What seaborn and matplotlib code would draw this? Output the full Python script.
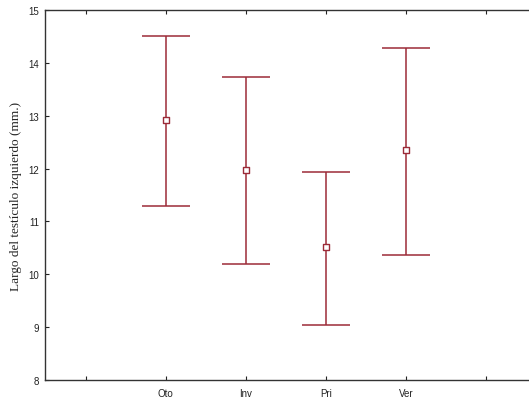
import matplotlib
matplotlib.use("Agg")
import matplotlib.pyplot as plt
import seaborn as sns
import pandas as pd

categories = ["Oto", "Inv", "Pri", "Ver"]
means = [12.91, 11.97, 10.52, 12.36]
lower = [11.29, 10.19, 9.05, 10.37]
upper = [14.50, 13.73, 11.93, 14.29]
y_ticks = [8, 9, 10, 11, 12, 13, 14, 15]

sns.set_theme(style="white")
plt.rcParams['font.family'] = ['Liberation Sans', 'DejaVu Sans']

color = "#9c2b38"
fig = plt.figure(figsize=(5.29, 4.02), dpi=100)
ax = fig.add_axes([45/529, 1 - 381/402, 484/529, 370/402])

pos = [1, 2, 3, 4]
df = pd.DataFrame({"x": pos, "mean": means, "lo": lower, "hi": upper, "cat": categories})
yerr = [[m - l for m, l in zip(means, lower)], [h - m for h, m in zip(upper, means)]]
ax.errorbar(df["x"], df["mean"], yerr=yerr, fmt="none", ecolor=color,
            elinewidth=1.1, capsize=17, capthick=1.1, zorder=2)
sns.scatterplot(data=df, x="x", y="mean", ax=ax, marker="s", s=18,
                facecolor="white", edgecolor=color, linewidth=1.0, zorder=3)

ax.set_xlim(-0.51, 5.54)
ax.set_ylim(8, 15)
ax.set_xticks([0, 1, 2, 3, 4, 5])
ax.set_xticklabels([""] + categories + [""], fontsize=7)
ax.set_yticks(y_ticks)
ax.set_yticklabels([str(v) for v in y_ticks], fontsize=7)
ax.set_xlabel("")
ax.set_ylabel("Largo del testículo izquierdo (mm.)", fontsize=9.5,
              family=["Liberation Serif", "DejaVu Serif"], labelpad=5)
ax.tick_params(axis="both", direction="in", length=3, width=0.8, colors="#222222",
               top=True, bottom=True, left=True, right=False, pad=4)
ax.tick_params(axis="x", pad=6)
for s in ["left", "top", "bottom"]:
    ax.spines[s].set_color("#333333")
    ax.spines[s].set_linewidth(1.0)
ax.spines["right"].set_visible(False)

fig.savefig("out.png", dpi=100)
